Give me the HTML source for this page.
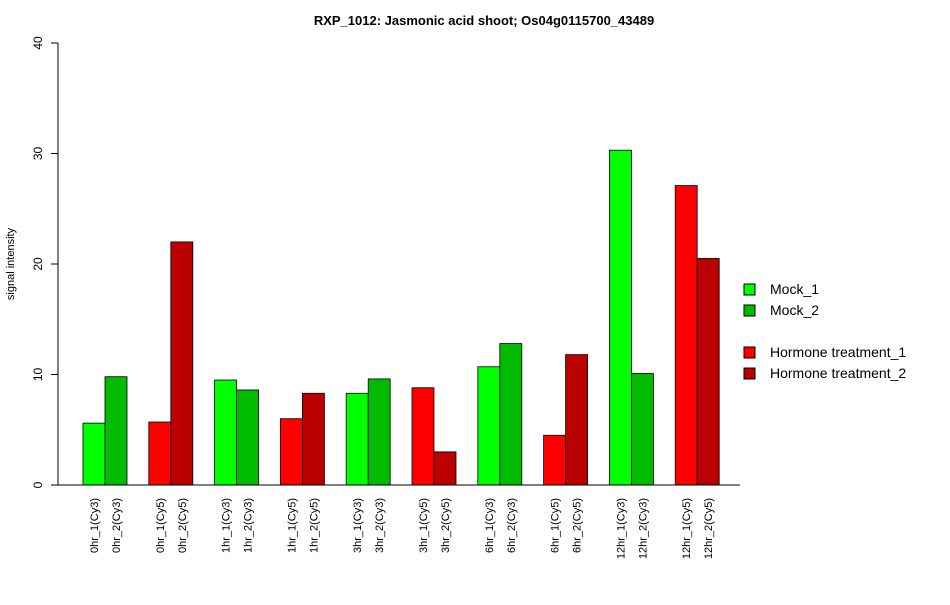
<!DOCTYPE html>
<html><head><meta charset="utf-8"><style>
body{margin:0;background:#fff;}
svg{font-family:"Liberation Sans",Arial,sans-serif;}
</style></head><body>
<svg width="950" height="600">
<text x="484" y="25" text-anchor="middle" font-size="13" font-weight="bold">RXP_1012: Jasmonic acid shoot; Os04g0115700_43489</text>
<text transform="translate(14,264) rotate(-90)" text-anchor="middle" font-size="11">signal intensity</text>
<g id="yaxis"></g>
<g id="bars"></g>
<g id="xlabels"></g>
<line x1="58" y1="485" x2="740" y2="485" stroke="#000"/>
<g font-size="14">
<rect x="744" y="284" width="11" height="11" fill="#00ff00" stroke="#000"/>
<text x="770" y="294">Mock_1</text>
<rect x="744" y="305" width="11" height="11" fill="#00bb00" stroke="#000"/>
<text x="770" y="315">Mock_2</text>
<rect x="744" y="347" width="11" height="11" fill="#ff0000" stroke="#000"/>
<text x="770" y="357">Hormone treatment_1</text>
<rect x="744" y="368" width="11" height="11" fill="#bb0000" stroke="#000"/>
<text x="770" y="378">Hormone treatment_2</text>
</g>
</svg>
<script>
const categories=["0hr_1(Cy3)","0hr_2(Cy3)","0hr_1(Cy5)","0hr_2(Cy5)","1hr_1(Cy3)","1hr_2(Cy3)","1hr_1(Cy5)","1hr_2(Cy5)","3hr_1(Cy3)","3hr_2(Cy3)","3hr_1(Cy5)","3hr_2(Cy5)","6hr_1(Cy3)","6hr_2(Cy3)","6hr_1(Cy5)","6hr_2(Cy5)","12hr_1(Cy3)","12hr_2(Cy3)","12hr_1(Cy5)","12hr_2(Cy5)"];
const values=[5.6,9.8,5.7,22.0,9.5,8.6,6.0,8.3,8.3,9.6,8.8,3.0,10.7,12.8,4.5,11.8,30.3,10.1,27.1,20.5];
const colors=["#00ff00","#00bb00","#ff0000","#bb0000"];
const yTicks=[0,10,20,30,40];
const NS="http://www.w3.org/2000/svg";
const y=v=>485-v*(442/40);
const x=i=>83+Math.floor(i/2)*65.8+(i%2)*22;
const bw=22;
const ya=document.getElementById('yaxis');
let l=document.createElementNS(NS,'line');


l.setAttribute('x1',58);l.setAttribute('x2',58);l.setAttribute('y1',y(0));l.setAttribute('y2',y(40));l.setAttribute('stroke','#000');ya.appendChild(l);
yTicks.forEach(t=>{
 const tk=document.createElementNS(NS,'line');
 
 
 tk.setAttribute('x1',51);tk.setAttribute('x2',58);tk.setAttribute('y1',y(t));tk.setAttribute('y2',y(t));tk.setAttribute('stroke','#000');ya.appendChild(tk);
 const tx=document.createElementNS(NS,'text');
 
 
 tx.setAttribute('transform',`translate(42,${y(t)}) rotate(-90)`);tx.setAttribute('text-anchor','middle');tx.setAttribute('font-size','12');tx.textContent=t;ya.appendChild(tx);
});
const bg=document.getElementById('bars'),xl=document.getElementById('xlabels');
values.forEach((v,i)=>{
 const r=document.createElementNS(NS,'rect');
 
 
 const g=Math.floor(i/2)%2;
 r.setAttribute('x',x(i));r.setAttribute('y',y(v));r.setAttribute('width',bw);r.setAttribute('height',y(0)-y(v));
 r.setAttribute('fill',colors[g*2+i%2]);r.setAttribute('stroke','#000');r.setAttribute('stroke-width','0.8');bg.appendChild(r);
 const t=document.createElementNS(NS,'text');
 
 
 const cx=x(i)+bw/2+4;
 t.setAttribute('transform',`translate(${cx},498) rotate(-90)`);t.setAttribute('text-anchor','end');t.setAttribute('font-size','11');t.textContent=categories[i];xl.appendChild(t);
});
</script>
</body></html>
